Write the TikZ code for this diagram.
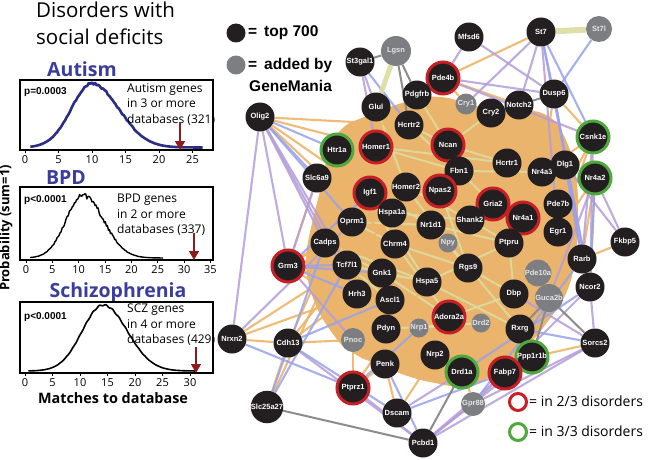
\documentclass[tikz,border=0pt]{standalone}
\usepackage{fontspec}
\usepackage{xcolor}
\usepackage{tikz}
\usetikzlibrary{arrows.meta, backgrounds}
\setmainfont{Open Sans}
\newfontfamily\hlv{Liberation Sans}

\definecolor{nodeblack}{HTML}{231F20}
\definecolor{ringred}{HTML}{C62026}
\definecolor{ringgreen}{HTML}{4FA83D}
\definecolor{addgrey}{HTML}{7D7E81}
\definecolor{titleblue}{HTML}{3A3D9C}
\definecolor{curveblue}{HTML}{2B2E83}
\definecolor{arrowred}{HTML}{8E1B1E}
\definecolor{eorange}{HTML}{EDB468}
\definecolor{epurple}{HTML}{B49DD8}
\definecolor{eblue}{HTML}{98A2EA}
\definecolor{egreen}{HTML}{DCDCA0}
\definecolor{egrey}{HTML}{8C8C8C}
\definecolor{corefill}{HTML}{EAB46C}

\tikzset{
  gene/.style={circle, fill=nodeblack, text=white, minimum size=29pt, inner sep=0pt,
    font=\hlv\bfseries\fontsize{7.5}{8}\selectfont},
  twoof/.style={gene, draw=ringred, line width=3pt, minimum size=32pt},
  threeof/.style={gene, draw=ringgreen, line width=3pt, minimum size=32pt},
  added/.style={gene, fill=addgrey, text=white!90!black, minimum size=21pt},
  eo/.style={draw=eorange, line width=2.1pt, opacity=0.9},
  ep/.style={draw=epurple, line width=2.1pt, opacity=0.85},
  eb/.style={draw=eblue, line width=2.1pt, opacity=0.85},
  eg/.style={draw=egreen, line width=2pt, opacity=0.9},
  ey/.style={draw=egrey, line width=2pt},
  plotbox/.style={line width=1.3pt},
  ticklab/.style={font=\fontsize{11}{11}\selectfont, inner sep=0pt},
  boxtext/.style={font=\fontsize{12}{15.5}\selectfont, anchor=north west, align=left, inner sep=0pt},
  pval/.style={font=\hlv\bfseries\fontsize{10}{10}\selectfont, anchor=west, inner sep=0pt},
  disname/.style={font=\bfseries\fontsize{19.5}{20}\selectfont, text=titleblue, anchor=base, inner sep=0pt},
  hitarrow/.style={arrowred, line width=1.6pt, -{Triangle[width=10pt,length=9pt]}},
}

\begin{document}
\begin{tikzpicture}[x=1pt, y=-1pt]
\useasboundingbox (0,0) rectangle (653,460);
\pgfmathsetseed{11}

% ---- left panel: distributions
\node[anchor=base west, inner sep=0pt, font=\fontsize{20.5}{22}\selectfont] (title1) at (36,18) {Disorders with};
\node[anchor=base west, inner sep=0pt, font=\fontsize{20.5}{22}\selectfont] (title2) at (36,45) {social deficits};
\node[rotate=90, font=\bfseries\fontsize{13}{13}\selectfont, inner sep=0pt] (ylab) at (6,228) {Probability (sum=1)};

% Autism
\node[disname] (autname) at (82,77) {Autism};
\draw[plotbox] (20,80) rectangle (213,150);
\foreach \v in {0,5,...,25} {
  \draw[line width=0.8pt] ({25+6.7*\v},150) -- ({25+6.7*\v},152.5);
  \node[ticklab] at ({25+6.7*\v},160) {\v};
}
\draw[curveblue, line width=2.6pt, line join=round] plot[domain=0.8:26.5, samples=110]
  ({25+6.7*\x}, {147.5-exp(-((\x-10)^2)/(2*(\x<10?3.1:4)^2))*(64+3*(rnd-0.5))});
\node[pval] (autp) at (24,92) {p=0.0003};
\node[boxtext] (auttxt) at (127,83) {Autism genes\\in 3 or more\\databases (321)};
\coordinate (autA) at (180,122);
\coordinate (autB) at (180,150);
\draw[hitarrow] (autA) -- (autB);

% BPD
\node[disname] (bpdname) at (66,184) {BPD};
\draw[plotbox] (20,187) rectangle (213,260);
\foreach \v in {0,5,...,35} {
  \draw[line width=0.8pt] ({26+5.27*\v},260) -- ({26+5.27*\v},262.5);
  \node[ticklab] at ({26+5.27*\v},270) {\v};
}
\draw[black, line width=1.4pt, line join=round] plot[domain=0.8:26, samples=130]
  ({26+5.27*\x}, {258-exp(-((\x-10.8)^2)/(2*(\x<10.8?3.2:3.9)^2))*(63+6*(rnd-0.5))});
\node[pval] (bpdp) at (24,200) {p<0.0001};
\node[boxtext] (bpdtxt) at (117,194) {BPD genes\\in 2 or more\\databases (337)};
\coordinate (bpdA) at (194,233);
\coordinate (bpdB) at (194,260);
\draw[hitarrow] (bpdA) -- (bpdB);

% Schizophrenia
\node[disname] (sczname) at (118,297) {Schizophrenia};
\draw[plotbox] (20,302) rectangle (213,373);
\foreach \v in {0,5,...,30} {
  \draw[line width=0.8pt] ({25+5.5*\v},373) -- ({25+5.5*\v},375.5);
  \node[ticklab] at ({25+5.5*\v},383) {\v};
}
\draw[black, line width=1.6pt, line join=round] plot[domain=0.6:31, samples=120]
  ({25+5.5*\x}, {371-exp(-((\x-14.2)^2)/(2*(\x<14.2?3.8:4.4)^2))*(66+0.8*sin(300*\x))});
\node[pval] (sczp) at (24,317) {p<0.0001};
\node[boxtext] (scztxt) at (127,304) {SCZ genes\\in 4 or more\\databases (429)};
\coordinate (sczA) at (196,347);
\coordinate (sczB) at (196,373);
\draw[hitarrow] (sczA) -- (sczB);
\node[font=\bfseries\fontsize{14.4}{16}\selectfont, inner sep=0pt] (xlab) at (113,398) {Matches to database};

% ---- legend
\fill[nodeblack] (236,33) circle (9.5);
\node[anchor=west, inner sep=0pt, font=\hlv\bfseries\fontsize{15.5}{16}\selectfont] (legtop) at (248,33) {=\, top 700};
\fill[addgrey] (236,65) circle (9.5);
\node[anchor=west, inner sep=0pt, font=\hlv\bfseries\fontsize{15.5}{16}\selectfont] (legadd) at (248,65) {=\, added by};
\node[anchor=west, inner sep=0pt, font=\hlv\bfseries\fontsize{15.5}{16}\selectfont] (leggm) at (249,86) {GeneMania};
\draw[ringred, line width=3pt] (518,402) circle (8.5);
\node[anchor=west, inner sep=0pt, font=\fontsize{14}{16}\selectfont] (legtwo) at (529,401) {= in 2/3 disorders};
\draw[ringgreen, line width=3pt] (518,432) circle (8.5);
\node[anchor=west, inner sep=0pt, font=\fontsize{14}{16}\selectfont] (legthree) at (529,431) {= in 3/3 disorders};

% ---- network nodes
\node[gene] (St3gal1) at (360,62) {St3gal1};
\node[added, minimum size=30pt] (Lgsn) at (396,51) {Lgsn};
\node[gene] (Mfsd6) at (469,37) {Mfsd6};
\node[gene] (St7) at (541,32) {St7};
\node[added, minimum size=26pt] (St7l) at (599,29) {St7l};
\node[twoof] (Pde4b) at (443,78) {Pde4b};
\node[gene] (Pdgfrb) at (417,95) {Pdgfrb};
\node[gene] (Glul) at (376,107) {Glul};
\node[added] (Cry1) at (466,104) {Cry1};
\node[gene] (Cry2) at (491,113) {Cry2};
\node[gene] (Notch2) at (519,105) {Notch2};
\node[gene] (Dusp6) at (554,94) {Dusp6};
\node[gene] (Olig2) at (260,117) {Olig2};
\node[gene] (Hcrtr2) at (409,125) {Hcrtr2};
\node[threeof] (Htr1a) at (337,150) {Htr1a};
\node[twoof] (Homer1) at (376,147) {Homer1};
\node[twoof] (Ncan) at (448,145) {Ncan};
\node[threeof] (Csnk1e) at (593,137) {Csnk1e};
\node[gene] (Hcrtr1) at (507,163) {Hcrtr1};
\node[gene] (Nr4a3) at (542,172) {Nr4a3};
\node[gene] (Dlg1) at (565,165) {Dlg1};
\node[threeof] (Nr4a2) at (595,178) {Nr4a2};
\node[gene] (Fbn1) at (459,171) {Fbn1};
\node[gene] (Slc6a9) at (317,178) {Slc6a9};
\node[twoof] (Igf1) at (370,193) {Igf1};
\node[gene] (Homer2) at (406,187) {Homer2};
\node[twoof] (Npas2) at (440,191) {Npas2};
\node[twoof] (Gria2) at (493,204) {Gria2};
\node[gene] (Pde7b) at (558,204) {Pde7b};
\node[gene] (Hspa1a) at (392,213) {Hspa1a};
\node[gene] (Oprm1) at (352,222) {Oprm1};
\node[gene] (Nr1d1) at (431,225) {Nr1d1};
\node[gene] (Shank2) at (470,220) {Shank2};
\node[twoof] (Nr4a1) at (523,218) {Nr4a1};
\node[gene] (Egr1) at (558,232) {Egr1};
\node[gene] (Ptpru) at (509,243) {Ptpru};
\node[added, minimum size=19pt] (Npy) at (448,243) {Npy};
\node[gene] (Fkbp5) at (625,242) {Fkbp5};
\node[gene] (Cadps) at (325,243) {Cadps};
\node[gene] (Chrm4) at (395,244) {Chrm4};
\node[gene] (Rarb) at (582,259) {Rarb};
\node[twoof] (Grm3) at (288,266) {Grm3};
\node[gene] (Tcf7l1) at (347,265) {Tcf7l1};
\node[gene] (Gnk1) at (382,273) {Gnk1};
\node[gene] (Rgs9) at (468,268) {Rgs9};
\node[added, minimum size=19pt] (Pde10a) at (538,273) {Pde10a};
\node[gene] (Hspa5) at (427,282) {Hspa5};
\node[gene] (Ncor2) at (590,287) {Ncor2};
\node[gene] (Dbp) at (514,294) {Dbp};
\node[added, minimum size=28pt] (Guca2b) at (549,298) {Guca2b};
\node[gene] (Hrh3) at (357,294) {Hrh3};
\node[gene] (Ascl1) at (390,300) {Ascl1};
\node[twoof] (Adora2a) at (449,317) {Adora2a};
\node[added, minimum size=19pt] (Drd2) at (481,323) {Drd2};
\node[added, minimum size=19pt] (Nrp1) at (419,328) {Nrp1};
\node[gene] (Pdyn) at (386,329) {Pdyn};
\node[gene] (Rxrg) at (520,329) {Rxrg};
\node[gene] (Nrxn2) at (232,339) {Nrxn2};
\node[gene] (Cdh13) at (288,343) {Cdh13};
\node[added, minimum size=24pt] (Pnoc) at (353,340) {Pnoc};
\node[gene] (Sorcs2) at (595,343) {Sorcs2};
\node[gene] (Nrp2) at (435,355) {Nrp2};
\node[threeof] (Ppp1r1b) at (532,357) {Ppp1r1b};
\node[gene] (Penk) at (385,364) {Penk};
\node[threeof] (Drd1a) at (462,372) {Drd1a};
\node[twoof] (Fabp7) at (505,373) {Fabp7};
\node[twoof] (Ptprz1) at (353,388) {Ptprz1};
\node[added, minimum size=24pt] (Gpr88) at (473,404) {Gpr88};
\node[gene] (Slc25a27) at (267,407) {Slc25a27};
\node[gene] (Dscam) at (397,413) {Dscam};
\node[gene] (Pcbd1) at (423,443) {Pcbd1};

% ---- network edges
\begin{scope}[on background layer]
  \fill[corefill, rounded corners=18pt] (336,128) -- (372,114) -- (402,102) -- (440,94) -- (472,106)
    -- (510,112) -- (548,110) -- (568,140) -- (578,182) -- (578,240) -- (570,290) -- (548,322)
    -- (527,348) -- (502,368) -- (470,390) -- (440,384) -- (410,378) -- (378,364) -- (350,354)
    -- (330,332) -- (312,300) -- (304,262) -- (312,222) -- (322,184) -- cycle;
  \foreach \a/\b in {Homer1/Fbn1, Igf1/Nr1d1, Chrm4/Rgs9, Hspa5/Ptpru, Gnk1/Hspa5, Hcrtr2/Ncan,
      Oprm1/Chrm4, Nr1d1/Rgs9, Adora2a/Dbp, Shank2/Ptpru, Homer2/Npy, Hspa1a/Shank2,
      Tcf7l1/Hspa5, Chrm4/Adora2a, Fbn1/Gria2, Igf1/Hspa5, Npas2/Rgs9, Ncan/Hcrtr1,
      Glul/Homer2, Pdgfrb/Ncan, Cadps/Gnk1, Hspa5/Rxrg, Nrp1/Drd2, Ptpru/Dbp, Homer1/Hcrtr1,
      Oprm1/Nr1d1, Cadps/Hspa5, Npy/Rxrg, Fbn1/Nr4a3, Gnk1/Adora2a, Igf1/Chrm4, Homer2/Shank2,
      Hcrtr2/Fbn1, Tcf7l1/Ascl1, Pdyn/Drd2, Rgs9/Dbp, Nr1d1/Ptpru, Ncan/Cry2}
    \draw[eg] (\a) -- (\b);
  \foreach \a/\b in {St7/Pde4b, Olig2/Homer1, Olig2/Hcrtr2, Olig2/Igf1, Nrxn2/Cdh13, Cdh13/Slc25a27,
      Cdh13/Pnoc, Cdh13/Gnk1, Cdh13/Hspa1a, Grm3/Cadps, Grm3/Ascl1, Grm3/Pdyn, Grm3/Slc6a9,
      Grm3/Oprm1, Grm3/Chrm4, Grm3/Hspa5, Grm3/Homer2, Grm3/Nr1d1, Slc6a9/Htr1a, Slc6a9/Igf1,
      Fkbp5/Rarb, Nr4a2/Rarb, Nr4a2/Ncor2, Nr4a2/Egr1, Sorcs2/Ppp1r1b, Pde4b/Cry1, Pde4b/Notch2,
      Dscam/Penk, Dscam/Nrp2, Ptprz1/Pnoc, Ptprz1/Penk, Ptprz1/Hspa5, Csnk1e/Nr4a3, Csnk1e/Dusp6,
      Csnk1e/Egr1, Nrxn2/Hrh3, Nrxn2/Tcf7l1, Slc25a27/Oprm1, Gpr88/Adora2a, Drd1a/Penk,
      Cdh13/Homer1, Slc6a9/Oprm1, Olig2/Chrm4, Csnk1e/Pde7b, Dusp6/Nr4a3}
    \draw[eo] (\a) -- (\b);
  \foreach \a/\b in {Mfsd6/Pde4b, Mfsd6/Dusp6, St7/Notch2, St7/Cry1, St7/Ncor2, St7/Egr1,
      Pde4b/Dusp6, Pde4b/Csnk1e, Olig2/Cadps, Olig2/Grm3, Olig2/Tcf7l1, Olig2/Nrxn2, Nrxn2/Oprm1,
      Fkbp5/Nr4a2, Fkbp5/Dlg1, Sorcs2/Ncor2, Sorcs2/Dbp, Pcbd1/Gpr88, Pcbd1/Ptprz1, Pcbd1/Fabp7,
      Pcbd1/Ppp1r1b, Pcbd1/Cdh13, Pcbd1/Sorcs2, Csnk1e/Rarb, Csnk1e/Ncor2, Dusp6/Rarb, St3gal1/Glul,
      St3gal1/Homer1, Grm3/Pnoc, Slc6a9/Grm3, Gpr88/Ncor2, Dscam/Drd1a, Gpr88/Sorcs2,
      Olig2/Hrh3, Nr4a2/Guca2b}
    \draw[ep] (\a) -- (\b);
  \foreach \a/\b in {St7l/Dusp6, St7/Csnk1e, St7/Dusp6, Olig2/Htr1a, Olig2/Slc6a9, Nrxn2/Ptprz1,
      Cdh13/Dscam, Slc25a27/Cadps, Slc25a27/Tcf7l1, Grm3/Tcf7l1, Grm3/Hrh3, Grm3/Gnk1,
      Sorcs2/Rxrg, Ncor2/Drd1a, Dusp6/Ncor2, Cdh13/Ascl1, Ptprz1/Nrp1, Olig2/Oprm1,
      Gpr88/Rarb, Pcbd1/Penk, St3gal1/Hcrtr2, Dlg1/Rarb, Grm3/Igf1, Nr4a2/Ncor2, Dscam/Fabp7}
    \draw[eb] (\a) -- (\b);
  \foreach \a/\b in {Lgsn/St3gal1, Lgsn/Pdgfrb, Lgsn/Hcrtr2, Slc25a27/Pcbd1, Drd1a/Pcbd1,
      Sorcs2/Guca2b, Guca2b/Ppp1r1b, Guca2b/Rxrg, Dusp6/Notch2}
    \draw[ey] (\a) -- (\b);
  \draw[eg, line width=5pt] (Lgsn) -- (Glul);
  \draw[eg, line width=6pt] (St7) -- (St7l);
\end{scope}
\end{tikzpicture}
\end{document}
